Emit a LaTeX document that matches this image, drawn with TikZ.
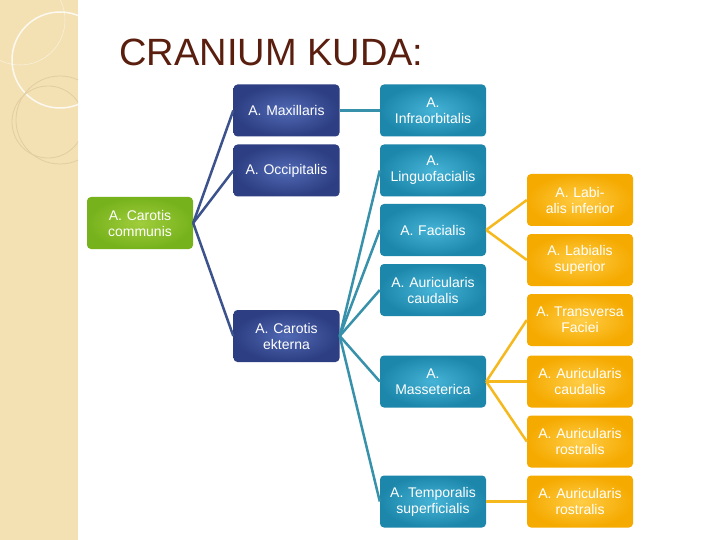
\documentclass[tikz,border=0pt]{standalone}
\usepackage{fontspec}
\setmainfont{Liberation Sans}
\definecolor{dbi}{RGB}{80,105,180}
\definecolor{dbo}{RGB}{45,62,130}
\definecolor{tei}{RGB}{70,180,215}
\definecolor{teo}{RGB}{28,135,170}
\definecolor{ori}{RGB}{255,205,70}
\definecolor{oro}{RGB}{245,170,0}
\definecolor{gri}{RGB}{160,205,60}
\definecolor{gro}{RGB}{118,178,28}
\definecolor{bel}{RGB}{60,82,140}
\definecolor{tel}{RGB}{55,145,170}
\definecolor{orl}{RGB}{245,185,30}
\definecolor{beige}{RGB}{243,225,180}
\definecolor{beiged}{RGB}{225,205,160}
\definecolor{ttl}{RGB}{90,30,15}
\begin{document}
\begin{tikzpicture}[x=1pt,y=-1pt,
 box/.style={rounded corners=4pt,minimum width=106pt,minimum height=52pt,text=white,align=center,font=\fontsize{14}{16}\selectfont,inner sep=1pt,text width=104pt},
 dblue/.style={box,shading=radial,inner color=dbi,outer color=dbo},
 teal/.style={box,shading=radial,inner color=tei,outer color=teo},
 orng/.style={box,shading=radial,inner color=ori,outer color=oro},
 grn/.style={box,shading=radial,inner color=gri,outer color=gro},
 be/.style={line width=2.5pt,draw=bel},
 te/.style={line width=2.5pt,draw=tel},
 oe/.style={line width=2.5pt,draw=orl}]
\useasboundingbox (0,0) rectangle (720,540);
\fill[white] (0,0) rectangle (720,540);
\fill[beige] (0,0) rectangle (78,540);
\begin{scope}
\clip (0,0) rectangle (78,540);
\draw[white,line width=1.5pt,opacity=0.8] (60,60) circle (48);
\draw[beiged,line width=0.8pt] (48,122) circle (36);
\draw[beiged,line width=0.8pt] (60,120) circle (44);
\draw[white,opacity=0.5,line width=0.6pt] (20,20) circle (45);
\end{scope}
\node[anchor=west,text=ttl,font=\fontsize{38}{40}\selectfont] (title) at (116,52) {CRANIUM KUDA:};
\node[grn] (cc) at (140,223) {A. Carotis communis};
\node[dblue] (max) at (286.5,110.5) {A. Maxillaris};
\node[dblue] (occ) at (286.5,170.5) {A. Occipitalis};
\node[dblue] (ek) at (286.5,336) {A. Carotis ekterna};
\node[teal] (inf) at (433,110.5) {A.\\Infraorbitalis};
\node[teal] (lin) at (433,170.5) {A.\\Linguofacialis};
\node[teal] (fac) at (433,230) {A. Facialis};
\node[teal] (auc) at (433,290) {A. Auricularis caudalis};
\node[teal] (mas) at (433,381.5) {A.\\Masseterica};
\node[teal] (tem) at (433,501.5) {A. Temporalis superficialis};
\node[orng] (li) at (580,200) {A. Labialis inferior};
\node[orng] (ls) at (580,260) {A. Labialis superior};
\node[orng] (tf) at (580,320) {A. Transversa Faciei};
\node[orng] (ac) at (580,381.5) {A. Auricularis caudalis};
\node[orng] (ar) at (580,441.5) {A. Auricularis rostralis};
\node[orng] (ar2) at (580,501.5) {A. Auricularis rostralis};
\draw[be] (cc.east) -- (max.west);
\draw[be] (cc.east) -- (occ.west);
\draw[be] (cc.east) -- (ek.west);
\draw[te] (max.east) -- (inf.west);
\foreach \t in {lin,fac,auc,mas,tem} \draw[te] (ek.east) -- (\t.west);
\draw[oe] (fac.east) -- (li.west);
\draw[oe] (fac.east) -- (ls.west);
\foreach \t in {tf,ac,ar} \draw[oe] (mas.east) -- (\t.west);
\draw[oe] (tem.east) -- (ar2.west);
\end{tikzpicture}
\end{document}
